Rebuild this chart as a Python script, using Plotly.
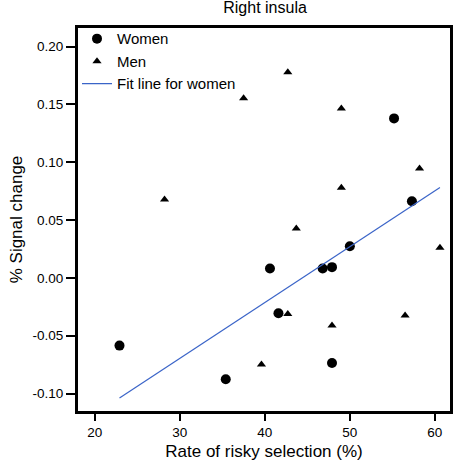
import numpy as np
import plotly.graph_objects as go

women_x = [22.9, 35.4, 40.6, 41.6, 46.8, 47.9, 50.0, 47.9, 55.2, 57.3]
women_y = [-0.0585, -0.0876, 0.0081, -0.0305, 0.0081, 0.0093, 0.0274, -0.0735, 0.1379, 0.0663]
men_x = [42.7, 37.5, 49.0, 58.2, 49.0, 28.2, 43.7, 60.6, 42.7, 56.5, 47.9, 39.6]
men_y = [0.1777, 0.1554, 0.1465, 0.0946, 0.0779, 0.0678, 0.0427, 0.0260, -0.0311, -0.0325, -0.0412, -0.0749]
x_ticks = [20, 30, 40, 50, 60]
y_ticks = [-0.10, -0.05, 0.00, 0.05, 0.10, 0.15, 0.20]

slope, intercept = np.polyfit(women_x, women_y, 1)
fit_x = np.array([min(women_x), max(men_x + women_x)])
fit_y = slope * fit_x + intercept

font = "Liberation Sans, Arial, sans-serif"
fig = go.Figure()
fig.add_trace(go.Scatter(x=women_x, y=women_y, mode="markers", name="Women",
                         marker=dict(symbol="circle", size=10, color="black")))
fig.add_trace(go.Scatter(x=men_x, y=men_y, mode="markers", name="Men",
                         marker=dict(symbol="triangle-up", size=8, color="black")))
fig.add_trace(go.Scatter(x=fit_x, y=fit_y, mode="lines", name="Fit line for women",
                         line=dict(color="#3a64c8", width=1.2)))

fig.update_xaxes(showgrid=False, zeroline=False, showline=True, linecolor="#000000",
                 linewidth=2, mirror=True, ticks="outside", ticklen=7, tickwidth=1.5,
                 tickcolor="#000000")
fig.update_yaxes(showgrid=False, zeroline=False, showline=True, linecolor="#000000",
                 linewidth=2, mirror=True, ticks="outside", ticklen=9, tickwidth=1.5,
                 tickcolor="#000000")
fig.update_layout(
    width=457, height=466,
    margin=dict(l=77, r=4, t=27, b=54),
    plot_bgcolor="white", paper_bgcolor="white",
    font=dict(family=font, color="black"),
    title=dict(text="Right insula", x=0.58, xanchor="center", y=0.997, yanchor="top",
               font=dict(size=16, color="black", family=font)),
    xaxis=dict(range=[17.9, 61.9], tickvals=x_ticks, ticktext=[str(v) for v in x_ticks],
               tickfont=dict(size=13.5, color="black", family=font),
               title=dict(text="Rate of risky selection (%)", font=dict(size=17), standoff=6)),
    yaxis=dict(range=[-0.1159, 0.2169], tickvals=y_ticks,
               ticktext=[f"{v:.2f}" for v in y_ticks],
               tickfont=dict(size=13.5, color="black", family=font),
               title=dict(text="% Signal change", font=dict(size=17), standoff=6)),
    showlegend=True,
    legend=dict(x=0.0, y=1.012, xanchor="left", yanchor="top", bgcolor="rgba(0,0,0,0)",
                font=dict(size=15, color="black", family=font), tracegroupgap=0),
    shapes=[dict(type="rect", xref="paper", yref="paper", x0=0, y0=0, x1=1, y1=1,
                 line=dict(color="#000000", width=2), layer="above")],
)
fig.write_html("out.html", config={"displayModeBar": False},
               post_script="document.body.style.margin='0';document.body.style.padding='0';")
